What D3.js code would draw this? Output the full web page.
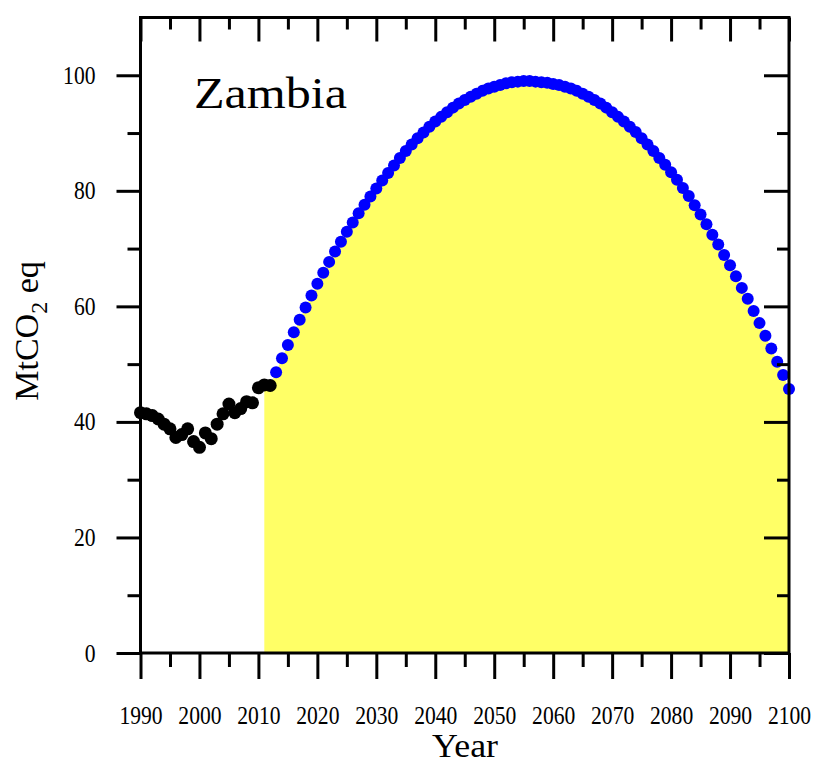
<!DOCTYPE html>
<html>
<head>
<meta charset="utf-8">
<script src="https://cdn.jsdelivr.net/npm/d3@7"></script>
<style>
  body { margin: 0; background: white; }
  text { font-family: "Liberation Serif", "Times New Roman", serif; fill: black; }
</style>
</head>
<body>
<div id="figurHolder"></div>
<script>
// historiske utslipp (svarte punkter)
var aarHistorisk = [1990, 1991, 1992, 1993, 1994, 1995, 1996, 1997, 1998, 1999, 2000, 2001,
    2002, 2003, 2004, 2005, 2006, 2007, 2008, 2009, 2010, 2011, 2012];
var verdiHistorisk = [41.6, 41.4, 41.1, 40.5, 39.6, 38.8, 37.3, 37.8, 38.8, 36.6, 35.6, 38.1,
    37.1, 39.6, 41.4, 43.1, 41.6, 42.3, 43.5, 43.3, 45.9, 46.4, 46.3];

// framskriving (blaa punkter)
var aarFramskriving = d3.range(2013, 2101);
var verdiFramskriving = [
    48.6, 51.0, 53.3, 55.5, 57.7, 59.8, 61.9, 63.9, 65.8, 67.7,      // 2013-2022
    69.5, 71.2, 72.9, 74.5, 76.1, 77.6, 79.0, 80.4, 81.8, 83.1,      // 2023-2032
    84.4, 85.7, 86.9, 88.0, 89.1, 90.1, 91.1, 92.0, 92.8, 93.6,      // 2033-2042
    94.4, 95.1, 95.7, 96.3, 96.8, 97.3, 97.7, 98.0, 98.3, 98.6,      // 2043-2052
    98.8, 98.9, 99.0, 99.0, 98.9, 98.8, 98.7, 98.5, 98.3, 98.0,      // 2053-2062
    97.7, 97.3, 96.8, 96.3, 95.7, 95.1, 94.4, 93.6, 92.8, 92.0,      // 2063-2072
    91.1, 90.2, 89.1, 88.0, 86.9, 85.7, 84.5, 83.2, 81.9, 80.5,      // 2073-2082
    79.1, 77.5, 75.9, 74.2, 72.4, 70.7, 68.9, 67.1, 65.2, 63.2,      // 2083-2092
    61.3, 59.2, 57.1, 54.9, 52.7, 50.4, 48.1, 45.7                   // 2093-2100
];

var startGultFelt = 2011;

var xTicksStor = [1990, 2000, 2010, 2020, 2030, 2040, 2050, 2060, 2070, 2080, 2090, 2100];
var xTicksLiten = [1995, 2005, 2015, 2025, 2035, 2045, 2055, 2065, 2075, 2085, 2095];
var yTicksStor = [0, 20, 40, 60, 80, 100];
var yTicksLiten = [10, 30, 50, 70, 90];

var landNavn = "Zambia";

var margin = {top: 17.5, right: 24, bottom: 108, left: 140.5};
var width = 813 - margin.left - margin.right;
var height = 761 - margin.top - margin.bottom;

const svg = d3.select("#figurHolder")
    .append("svg")
        .attr("width", 813)
        .attr("height", 761)
        .style("background-color", "white");

const g = svg.append("g")
    .attr("transform", "translate(" + margin.left + "," + margin.top + ")");

var xVerdi = d3.scaleLinear()
    .domain([1990, 2100])
    .range([0, width]);

var yVerdi = d3.scaleLinear()
    .domain([0, 110])
    .range([height, 0]);

var historisk = aarHistorisk.map(function(a, i){ return {aar: a, verdi: verdiHistorisk[i]}; });
var framskriving = aarFramskriving.map(function(a, i){ return {aar: a, verdi: verdiFramskriving[i]}; });

// gult felt under framskrivingen
var feltData = historisk.filter(function(d){ return d.aar >= startGultFelt; }).concat(framskriving);
var omraade = d3.area()
    .x(function(d){ return xVerdi(d.aar); })
    .y0(yVerdi(0))
    .y1(function(d){ return yVerdi(d.verdi); });

g.append("path")
    .datum(feltData)
    .attr("d", omraade)
    .style("fill", "#ffff66")
    .style("stroke", "none");

// punktene
g.append("g")
    .selectAll("circle")
    .data(historisk)
    .enter()
    .append("circle")
    .attr("cx", function(d){ return xVerdi(d.aar); })
    .attr("cy", function(d){ return yVerdi(d.verdi); })
    .attr("r", 6.5)
    .style("fill", "black");

g.append("g")
    .selectAll("circle")
    .data(framskriving)
    .enter()
    .append("circle")
    .attr("cx", function(d){ return xVerdi(d.aar); })
    .attr("cy", function(d){ return yVerdi(d.verdi); })
    .attr("r", 6)
    .style("fill", "#0000ff");

// akser
function stilAkse(sel){
    sel.select(".domain").remove();
    sel.selectAll("line").style("stroke", "black").style("stroke-width", 3);
    sel.selectAll("text")
        .style("font-size", "25px")
        .style("font-family", "Liberation Serif, serif")
        .attr("lengthAdjust", "spacingAndGlyphs")
        .attr("textLength", function(){ return this.textContent.length * 10.8; });
}

g.append("g")
    .attr("transform", "translate(0," + height + ")")
    .call(d3.axisBottom(xVerdi).tickValues(xTicksStor).tickSize(26).tickPadding(27).tickFormat(d3.format("d")))
    .call(stilAkse);
g.append("g")
    .attr("transform", "translate(0," + height + ")")
    .call(d3.axisBottom(xVerdi).tickValues(xTicksLiten).tickSize(14).tickFormat(""))
    .call(stilAkse);

g.append("g")
    .call(d3.axisBottom(xVerdi).tickValues(xTicksStor).tickSize(24).tickFormat(""))
    .call(stilAkse);
g.append("g")
    .call(d3.axisBottom(xVerdi).tickValues(xTicksLiten).tickSize(12).tickFormat(""))
    .call(stilAkse);

g.append("g")
    .call(d3.axisLeft(yVerdi).tickValues(yTicksStor).tickSize(24).tickPadding(21))
    .call(stilAkse);
g.append("g")
    .call(d3.axisLeft(yVerdi).tickValues(yTicksLiten).tickSize(13).tickFormat(""))
    .call(stilAkse);

g.append("g")
    .attr("transform", "translate(" + width + ",0)")
    .call(d3.axisLeft(yVerdi).tickValues(yTicksStor).tickSize(25).tickFormat(""))
    .call(stilAkse);
g.append("g")
    .attr("transform", "translate(" + width + ",0)")
    .call(d3.axisLeft(yVerdi).tickValues(yTicksLiten).tickSize(12).tickFormat(""))
    .call(stilAkse);

// ramme
g.append("rect")
    .attr("x", 0)
    .attr("y", 0)
    .attr("width", width)
    .attr("height", height)
    .style("fill", "none")
    .style("stroke", "black")
    .style("stroke-width", 3);

// tekster
g.append("text")
    .attr("x", 194 - margin.left)
    .attr("y", 108 - margin.top)
    .attr("textLength", 153)
    .attr("lengthAdjust", "spacingAndGlyphs")
    .style("font-size", "45px")
    .text(landNavn);

svg.append("text")
    .attr("x", 465)
    .attr("y", 757)
    .attr("text-anchor", "middle")
    .attr("textLength", 66)
    .attr("lengthAdjust", "spacingAndGlyphs")
    .style("font-size", "34px")
    .text("Year");

var yTittel = svg.append("text")
    .attr("transform", "translate(38,331) rotate(-90)")
    .attr("text-anchor", "middle")
    .style("font-size", "34px");
yTittel.append("tspan").text("MtCO");
yTittel.append("tspan").attr("dy", 9).style("font-size", "24px").text("2");
yTittel.append("tspan").attr("dy", -9).text(" eq");
</script>
</body>
</html>
